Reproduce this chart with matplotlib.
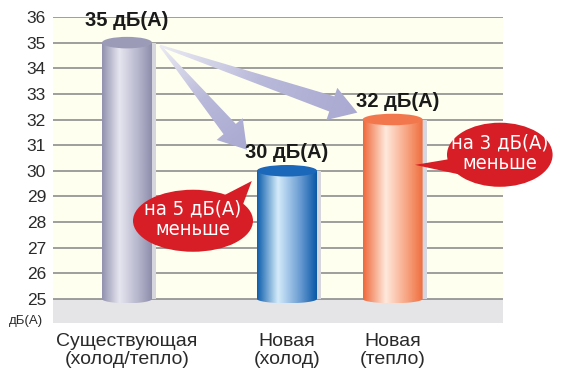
import numpy as np
import matplotlib
matplotlib.use("Agg")
import matplotlib.pyplot as plt
from matplotlib.colors import LinearSegmentedColormap
from matplotlib.patches import Ellipse, Rectangle, Polygon, PathPatch
from matplotlib.path import Path
from matplotlib import font_manager

# --- data ---
categories = ["Существующая\n(холод/тепло)", "Новая\n(холод)", "Новая\n(тепло)"]
levels = [35, 30, 32]
value_labels = ["35 дБ(А)", "30 дБ(А)", "32 дБ(А)"]
reduction_labels = ["на 5 дБ(А)\nменьше", "на 3 дБ(А)\nменьше"]
y_ticks = list(range(25, 37))
unit_label = "дБ(А)"

# --- layout / style ---
x_pos = [0.0, 1.0, 1.66]
widths = [0.3125, 0.375, 0.375]
base = 25
body_stops = [
    [(0, "#9191AF"), (0.35, "#E6E6F0"), (0.75, "#B2B2CA"), (1, "#8E8EAC")],
    [(0, "#0D5DAC"), (0.35, "#D4EBFA"), (0.72, "#6A9CD2"), (1, "#0858A6")],
    [(0, "#EF683A"), (0.38, "#FFE9DC"), (0.75, "#F7A07C"), (1, "#EF6E3E")],
]
top_colors = ["#9B9BB8", "#1B67B9", "#F3774D"]
red = "#D71D25"

plt.rcParams["font.family"] = ["Liberation Sans", "DejaVu Sans"]

# a narrow face for the callout text, if one is installed
narrow_prop = None
for key in ("LiberationSansNarrow-Regular", "DejaVuSansCondensed.ttf"):
    for f in font_manager.fontManager.ttflist:
        if key in f.fname:
            narrow_prop = font_manager.FontProperties(fname=f.fname)
            break
    if narrow_prop is not None:
        break
if narrow_prop is None:
    narrow_prop = font_manager.FontProperties(family="Liberation Sans")

fig = plt.figure(figsize=(5.63, 3.73), dpi=100)
ax = fig.add_axes([53 / 563, 50 / 373, 450 / 563, 306 / 373])
ax.set_facecolor("#FFFFF0")
for s in ax.spines.values():
    s.set_visible(False)

# floor band and grid
ax.axhspan(24.06, base, color="#E5E5E7", zorder=0.5, lw=0)
for t in y_ticks:
    ax.axhline(t, color="#8E8E8E", lw=1.2, zorder=1)

ax.set_yticks(y_ticks)
ax.tick_params(axis="y", length=0, pad=5, labelsize=12.5, labelcolor="#2A2A2A")
ax.set_xticks(x_pos, categories)
ax.tick_params(axis="x", length=0, pad=7, labelsize=14, labelcolor="#2A2A2A")
for lab in ax.get_xticklabels():
    lab.set_linespacing(1.12)
ax.text(-0.06, 0.005, unit_label, transform=ax.transAxes, ha="center", va="center",
        fontsize=9.5, color="#2A2A2A")


def cylinder(x, w, top, stops, top_color):
    eh_top = 0.45
    eh_bot = 0.34
    cmap = LinearSegmentedColormap.from_list("c", stops)
    grad = np.linspace(0, 1, 256).reshape(1, -1)
    # shadow strip on the right
    ax.add_patch(Rectangle((x + w / 2 - 0.005, base), 0.03, top - base,
                           facecolor="#D6D6DE", edgecolor="none", zorder=2))
    im = ax.imshow(grad, cmap=cmap, aspect="auto", interpolation="bicubic",
                   extent=[x - w / 2, x + w / 2, base - eh_bot / 2, top], zorder=3)
    th = np.linspace(np.pi, 2 * np.pi, 60)
    verts = [(x - w / 2, top)]
    verts += [(x + w / 2 * np.cos(t), base + eh_bot / 2 * np.sin(t)) for t in th]
    verts += [(x + w / 2, top), (x - w / 2, top)]
    clip = PathPatch(Path(verts), facecolor="none", edgecolor="none")
    ax.add_patch(clip)
    im.set_clip_path(clip)
    ax.add_patch(Ellipse((x, top), w, eh_top, facecolor=top_color,
                         edgecolor="none", zorder=4))


for x, w, v, st, tc in zip(x_pos, widths, levels, body_stops, top_colors):
    cylinder(x, w, v, st, tc)

ax.set_xlim(-0.4625, 2.35)
ax.set_ylim(24.06, 36)

# value labels above bars
label_offsets = [0.85, 0.72, 0.72]
label_dx = [0.0, 0.0, 0.03]
for x, v, txt, dy, dx in zip(x_pos, levels, value_labels, label_offsets, label_dx):
    ax.text(x + dx, v + dy, txt, ha="center", va="center", fontsize=14.5,
            fontweight="bold", color="#1A1A1A", zorder=6)

arrow_cmap = LinearSegmentedColormap.from_list("a", ["#ECECF4", "#B9B9DA", "#A9A9D2"])


def wedge_arrow(start, tip, shaft=16, head_w=34, head_l=27):
    tr = ax.transData
    p0 = tr.transform(start)
    p1 = tr.transform(tip)
    d = p1 - p0
    L = np.hypot(*d)
    u = d / L
    n = np.array([-u[1], u[0]])
    hb = p1 - u * head_l
    pts = np.array([p0 + n * 1.0, hb + n * shaft / 2, hb + n * head_w / 2, p1,
                    hb - n * head_w / 2, hb - n * shaft / 2, p0 - n * 1.0])
    pd = tr.inverted().transform(pts)
    poly = Polygon(pd, closed=True, facecolor="none", edgecolor="none")
    ax.add_patch(poly)
    ext = [pd[:, 0].min(), pd[:, 0].max(), pd[:, 1].min(), pd[:, 1].max()]
    gx = np.linspace(ext[0], ext[1], 200)
    gy = np.linspace(ext[3], ext[2], 200)
    GX, GY = np.meshgrid(gx, gy)
    P = tr.transform(np.column_stack([GX.ravel(), GY.ravel()]))
    t = ((P - p0) @ u / L).reshape(GX.shape).clip(0, 1)
    im = ax.imshow(t, cmap=arrow_cmap, extent=ext, aspect="auto", origin="upper",
                   zorder=2.5, interpolation="bilinear")
    im.set_clip_path(poly)


start = (x_pos[0] + widths[0] / 2 + 0.05, levels[0] - 0.12)
wedge_arrow(start, (x_pos[1] - 0.25, levels[1] + 0.82))
wedge_arrow(start, (x_pos[2] - 0.22, levels[2] + 0.27))
ax.set_xlim(-0.4625, 2.35)
ax.set_ylim(24.06, 36)


def callout(center, w, h, tail_angles, tip, text, tdy=0.0):
    cx, cy = center
    ax.add_patch(Ellipse(center, w, h, facecolor=red, edgecolor="none",
                         zorder=7, clip_on=False))
    a1, a2 = np.radians(tail_angles)
    p1 = (cx + w / 2 * 0.95 * np.cos(a1), cy + h / 2 * 0.95 * np.sin(a1))
    p2 = (cx + w / 2 * 0.95 * np.cos(a2), cy + h / 2 * 0.95 * np.sin(a2))
    ax.add_patch(Polygon([p1, tip, p2], closed=True, facecolor=red,
                         edgecolor="none", zorder=7, clip_on=False))
    ax.text(cx, cy + tdy, text, ha="center", va="center", color="white",
            fontproperties=narrow_prop, fontsize=14.5, linespacing=1.1,
            zorder=8, clip_on=False)


callout((0.4125, 28.05), 0.75, 2.42, (30, 58), (x_pos[1] - 0.22, levels[1] - 0.4),
        reduction_labels[0], tdy=0.05)
callout((2.33, 30.625), 0.66, 2.5, (188, 222), (x_pos[2] + 0.14, levels[2] - 1.77),
        reduction_labels[1], tdy=0.05)

fig.savefig("out.png", dpi=100)
